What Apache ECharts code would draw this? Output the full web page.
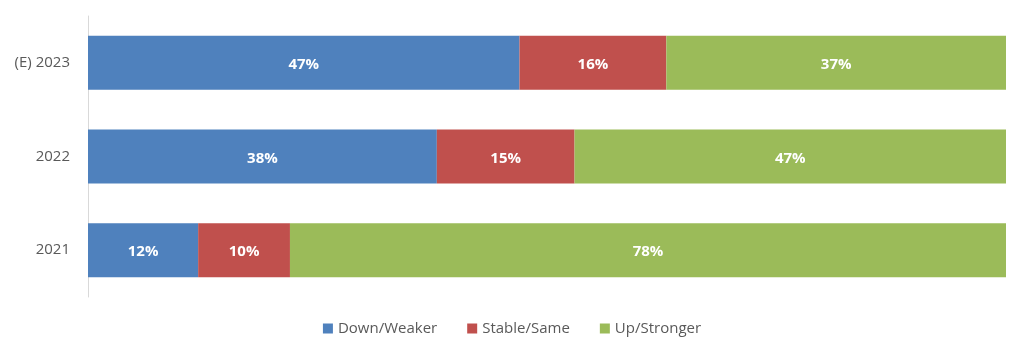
<!DOCTYPE html>
<html>
<head>
<meta charset="utf-8">
<script src="https://cdn.jsdelivr.net/npm/echarts@6/dist/echarts.min.js"></script>
<style>
  html, body { margin: 0; padding: 0; background: #fff; }
  #chart { width: 1024px; height: 354px; }
</style>
</head>
<body>
<div id="chart"></div>
<script>
// categories, bottom to top
var years = ['2021', '2022', '(E) 2023'];
var down = [12, 38, 47];
var stable = [10, 15, 16];
var up = [78, 47, 37];

var chart = echarts.init(document.getElementById('chart'));

function barSeries(name, data, color) {
  return {
    name: name,
    type: 'bar',
    stack: 'total',
    barWidth: 54,
    data: data,
    itemStyle: { color: color },
    label: {
      show: true,
      position: 'inside',
      formatter: '{c}%',
      color: '#fff',
      fontWeight: 'bold',
      fontSize: 15,
      fontFamily: 'Open Sans',
      offset: [0, 2]
    }
  };
}

var option = {
  animation: false,
  textStyle: { fontFamily: 'Open Sans' },
  grid: { left: 88, right: 18, top: 16, height: 281 },
  legend: {
    bottom: 13,
    left: 'center',
    itemWidth: 10,
    itemHeight: 10,
    itemGap: 30,
    icon: 'rect',
    textStyle: { color: '#595959', fontSize: 15, fontFamily: 'Open Sans' },
    data: ['Down/Weaker', 'Stable/Same', 'Up/Stronger']
  },
  xAxis: {
    type: 'value',
    min: 0,
    max: 100,
    show: false
  },
  yAxis: {
    type: 'category',
    data: years,
    axisLine: { lineStyle: { color: '#d9d9d9', width: 1 } },
    axisTick: { show: false },
    axisLabel: { color: '#595959', fontSize: 15, margin: 18 }
  },
  series: [
    barSeries('Down/Weaker', down, '#4F81BD'),
    barSeries('Stable/Same', stable, '#C0504D'),
    barSeries('Up/Stronger', up, '#9BBB59')
  ]
};

chart.setOption(option);
</script>
</body>
</html>
